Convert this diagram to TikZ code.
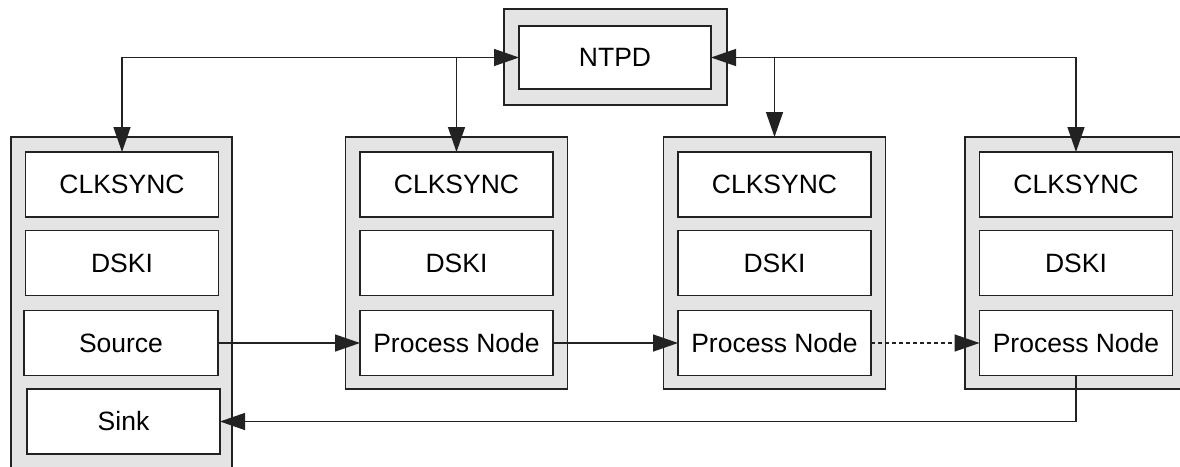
\documentclass[tikz,border=0pt]{standalone}
\usepackage{fontspec}
\setmainfont{Liberation Sans}
\usetikzlibrary{arrows.meta}

\definecolor{edge}{HTML}{222222}
\definecolor{hostgray}{HTML}{E4E4E4}

\begin{document}
\begin{tikzpicture}[x=1pt,y=-1pt,
  >={Triangle[length=25pt,width=17pt]},
  host/.style={draw=edge,fill=hostgray,line width=1.5pt,minimum width=222pt,inner sep=0pt,outer sep=0pt},
  unit/.style={draw=edge,fill=white,line width=1.5pt,minimum width=193pt,minimum height=65pt,inner sep=0pt,outer sep=0pt,font=\fontsize{26.5}{30}\selectfont},
  link/.style={draw=edge,line width=1.4pt,->}]
\clip (0,0) rectangle (1180,466);

% time daemon
\node[host,minimum width=223pt,minimum height=96pt] (ntpdhost) at (615.5,57) {};
\node[unit,minimum width=192pt,minimum height=63pt] (ntpd) at (615,57.5) {NTPD};

% source/sink host
\node[host,minimum width=221pt,minimum height=363pt] (host1) at (121.5,318.5) {};
\node[unit] (clk1) at (122,184.5) {CLKSYNC};
\node[unit] (dski1) at (122,263) {DSKI};
\node[unit,minimum width=194pt] (src) at (121,343) {Source};
\node[unit] (sink) at (123.5,421.5) {Sink};

% processing hosts
\foreach \x/\i in {456.5/2,774.5/3,1076/4} {
  \node[host,minimum height=252pt] (host\i) at (\x,263) {};
  \node[unit] (clk\i) at (\x,184.5) {CLKSYNC};
  \node[unit] (dski\i) at (\x,263) {DSKI};
  \node[unit] (proc\i) at (\x,343) {Process Node};
}

% clock sync links
\draw[link,<->] (clk1.north) |- (ntpd.west);
\draw[link] (ntpd.west -| clk2.north) -- (clk2.north);
\draw[link,<->] (clk4.north) |- (ntpd.east);
\draw[link] (ntpd.east -| host3.north) -- (host3.north);

% data path
\draw[link] (src.east) -- (proc2.west);
\draw[link] (proc2.east) -- (proc3.west);
\draw[link,dash pattern=on 4pt off 3pt] (proc3.east) -- (proc4.west);
\draw[link] (proc4.south) |- (sink.east);
\end{tikzpicture}
\end{document}
